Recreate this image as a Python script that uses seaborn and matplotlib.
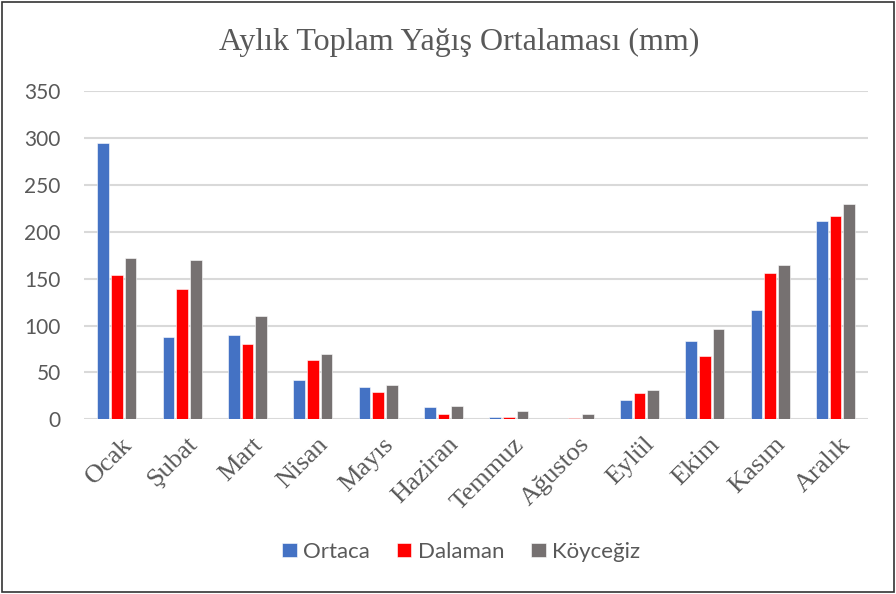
import numpy as np
import pandas as pd
import matplotlib
matplotlib.use('Agg')
import matplotlib.pyplot as plt
import matplotlib.transforms as mtransforms
from matplotlib.patches import Rectangle
import seaborn as sns

months = ['Ocak', 'Şubat', 'Mart', 'Nisan', 'Mayıs', 'Haziran', 'Temmuz',
          'Ağustos', 'Eylül', 'Ekim', 'Kasım', 'Aralık']
stations = ['Ortaca', 'Dalaman', 'Köyceğiz']
ortaca = [294, 88, 90, 42, 34, 13, 2, 0.3, 21, 84, 117, 211]
dalaman = [154, 139, 80, 63, 29, 6, 2.5, 1.4, 28, 68, 156, 217]
koycegiz = [172, 170, 110, 70, 37, 14, 8.5, 5.6, 31, 96, 164, 230]
colors = ['#4472C4', '#FF0000', '#767171']

df = pd.DataFrame({
    'Ay': months * 3,
    'İstasyon': [s for s in stations for _ in months],
    'Yağış': ortaca + dalaman + koycegiz,
})

sns.set_style('white')
plt.rcParams['font.family'] = ['Lato', 'DejaVu Sans']

fig = plt.figure(figsize=(8.96, 5.94), dpi=100)
ax = fig.add_axes([0.094, 0.294, 0.875, 0.553])

sns.barplot(data=df, x='Ay', y='Yağış', hue='İstasyon', palette=colors,
            saturation=1, width=0.63, gap=0.15, edgecolor='white',
            linewidth=0.4, ax=ax, zorder=3)

ax.set_ylim(0, 350)
ax.set_yticks(range(0, 351, 50))
ax.set_xlim(-0.5, 11.5)
ax.yaxis.grid(True, color='#d9d9d9', linewidth=1.5, zorder=0)
ax.set_axisbelow(True)
for s in ax.spines.values():
    s.set_visible(False)
ax.set_xlabel('')
ax.set_ylabel('')
ax.tick_params(axis='y', colors='#595959', labelsize=15, length=0, pad=17)
ax.tick_params(axis='x', length=0, pad=10)
ax.set_xticks(range(12))
ax.set_xticklabels(months, rotation=45, ha='right', rotation_mode='anchor',
                   fontfamily='Liberation Serif', fontsize=19, color='#595959')
# nudge month labels a bit to the right, like the original
shift = mtransforms.ScaledTranslation(4 / 100, 0, fig.dpi_scale_trans)
for lbl in ax.get_xticklabels():
    lbl.set_transform(lbl.get_transform() + shift)

fig.text(0.513, 0.928, 'Aylık Toplam Yağış Ortalaması (mm)', ha='center', va='center',
         fontfamily='Liberation Serif', fontsize=23, color='#595959')

handles, labels = ax.get_legend_handles_labels()
ax.legend_.remove()
fig.legend(handles, labels, loc='center', bbox_to_anchor=(0.515, 0.071), ncol=3,
           frameon=False, fontsize=16, handlelength=0.65, handleheight=0.65,
           handletextpad=0.3, columnspacing=1.2, labelcolor='#595959')

fig.patches.append(Rectangle((0.002, 0.003), 0.996, 0.994, transform=fig.transFigure,
                             fill=False, edgecolor='#333333', linewidth=1.2))

fig.savefig('out.png', dpi=100)
